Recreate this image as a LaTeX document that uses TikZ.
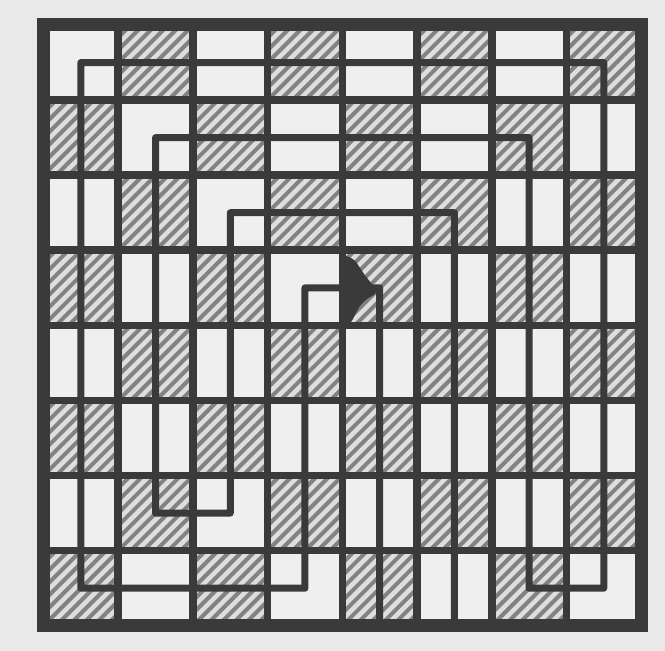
\documentclass[tikz,border=0pt]{standalone}
\usepackage{tikz}

\definecolor{paper}{RGB}{233,233,233}
\definecolor{light}{RGB}{239,239,239}
\definecolor{ink}{RGB}{58,58,58}
\definecolor{shade}{RGB}{222,222,222}
\definecolor{hatch}{RGB}{130,130,130}

\begin{document}
\begin{tikzpicture}[x=0.5pt, y=-0.5pt,
    gridline/.style={draw=ink, line width=3.8pt},
    border/.style={draw=ink, line width=6.5pt},
    route/.style={draw=ink, line width=3.5pt, line join=round},
    whitesq/.style={fill=light},
    darksq/.style={fill=shade},
    hatchline/.style={draw=hatch, line width=2pt}]

    \useasboundingbox[fill=paper] (0,0) rectangle (665,651);

    % squares and their centres
    \foreach \r in {0,...,7} {
        \foreach \c in {0,...,7} {
            \pgfmathtruncatemacro{\odd}{mod(\r+\c,2)}
            \pgfmathsetmacro{\xa}{43.5+74.7*\c}
            \pgfmathsetmacro{\ya}{25+75.1*\r}
            \ifnum\odd=0
                \path[whitesq] (\xa,\ya) rectangle ++(74.7,75.1);
            \else
                \begin{scope}
                    \clip (\xa,\ya) rectangle ++(74.7,75.1);
                    \path[darksq] (\xa,\ya) rectangle ++(74.7,75.1);
                    \foreach \t in {-75,-62.5,...,75}
                        \draw[hatchline] ({\xa+\t},{\ya+75.1}) -- ++(75.1,-75.1);
                \end{scope}
            \fi
            \coordinate (sq\r\c) at ({\xa+37.35},{\ya+37.55});
        }
    }

    \foreach \k in {1,...,7} {
        \draw[gridline] ({43.5+74.7*\k},25) -- ({43.5+74.7*\k},626);
        \draw[gridline] (43.5,{25+75.1*\k}) -- (641,{25+75.1*\k});
    }
    \draw[border] (43.5,25) rectangle (641,626);

    \coordinate (footA) at ({43.5+74.7*4.5},626);
    \coordinate (footB) at ({43.5+74.7*5.5},626);

    \draw[route] (footA) -- (sq34) -- (sq33) -- (sq73) -- (sq70) -- (sq00) -- (sq07)
        -- (sq77) -- (sq76) -- (sq16) -- (sq11) -- (sq61) -- (sq62) -- (sq22)
        -- (sq25) -- (footB);

    % ink blot
    \fill[ink, rounded corners=4pt] (339,256) -- (352,256) -- (368,280) -- (380,292)
        -- (364,300) -- (356,312) -- (350,326) -- (339,326) -- cycle;
\end{tikzpicture}
\end{document}
